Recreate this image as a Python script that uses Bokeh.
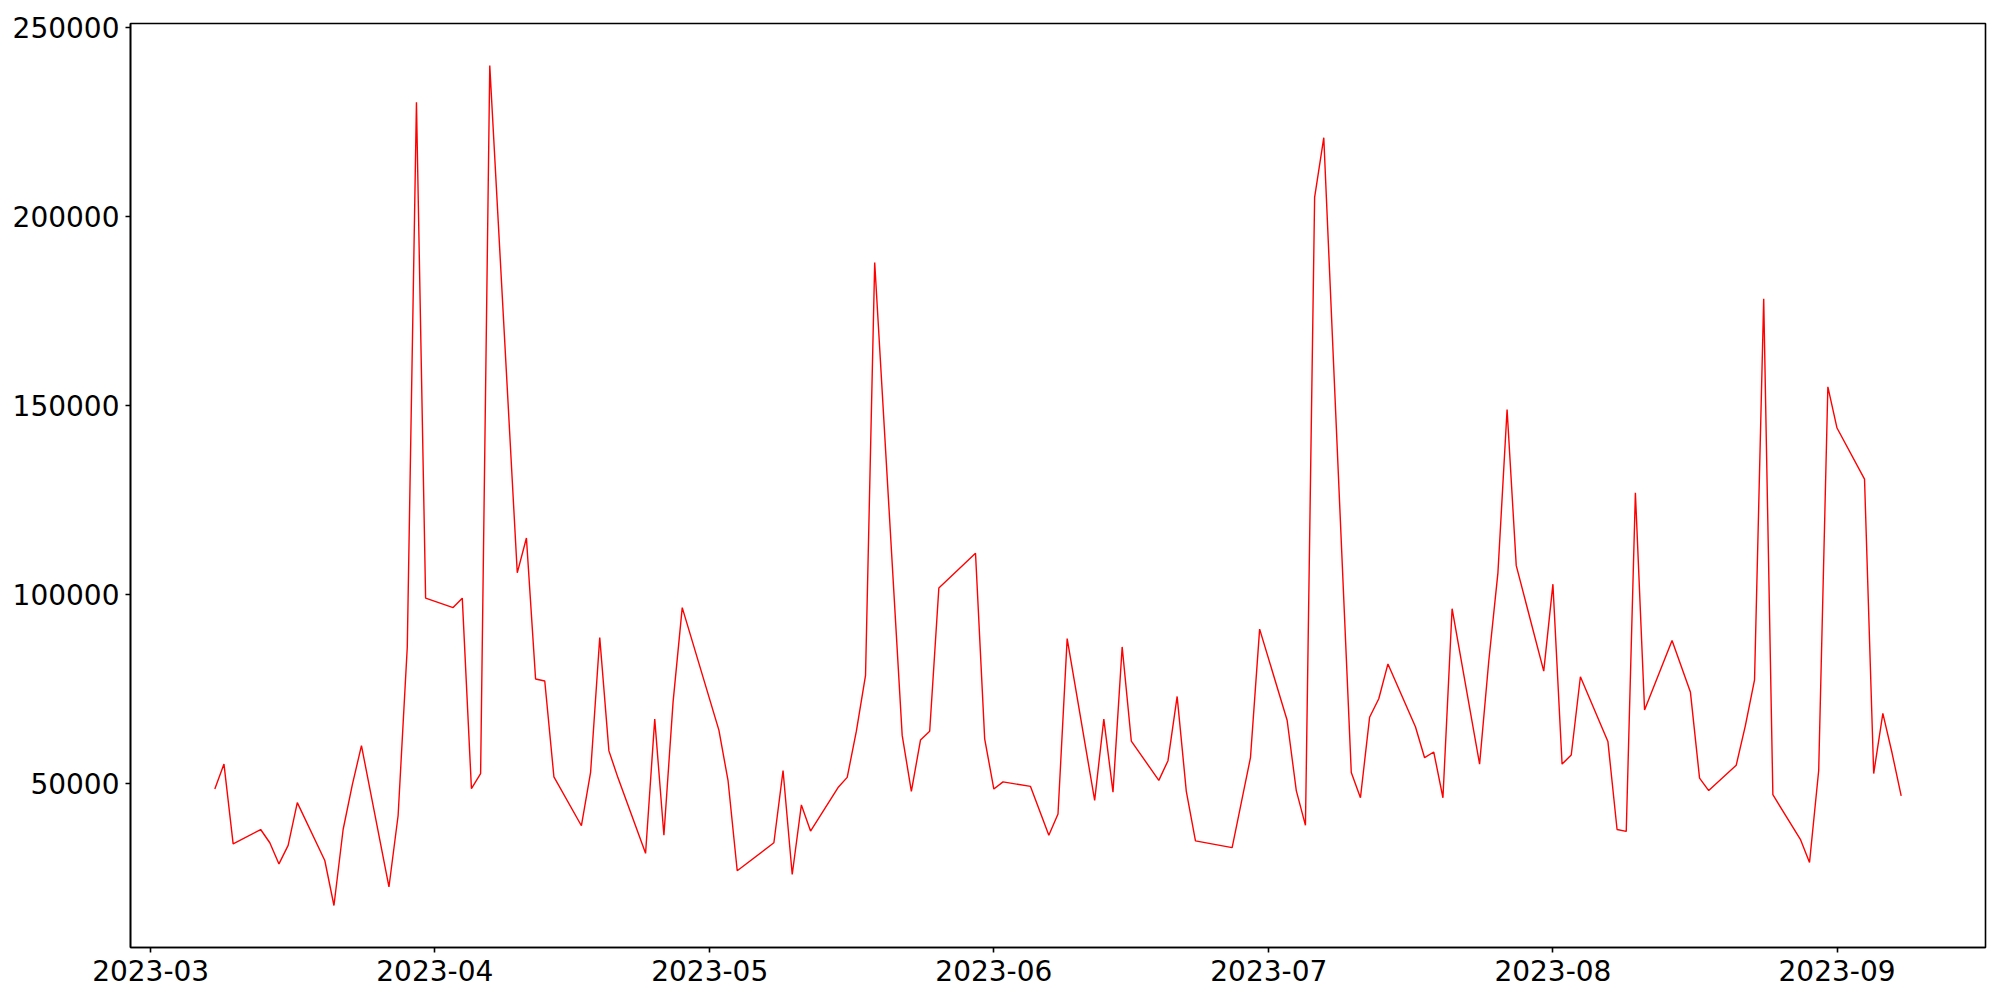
import pandas as pd
from bokeh.plotting import figure
from bokeh.models import Range1d, FixedTicker, DatetimeTickFormatter, NumeralTickFormatter, ColumnDataSource
from bokeh.embed import file_html
from bokeh.resources import INLINE

dates = [
    "2023-03-08", "2023-03-09", "2023-03-10", "2023-03-13", "2023-03-14", "2023-03-15", "2023-03-16", "2023-03-17",
    "2023-03-20", "2023-03-21", "2023-03-22", "2023-03-23", "2023-03-24", "2023-03-27", "2023-03-28", "2023-03-29",
    "2023-03-30", "2023-03-31", "2023-04-03", "2023-04-04", "2023-04-05", "2023-04-06", "2023-04-07", "2023-04-10",
    "2023-04-11", "2023-04-12", "2023-04-13", "2023-04-14", "2023-04-17", "2023-04-18", "2023-04-19", "2023-04-20",
    "2023-04-21", "2023-04-24", "2023-04-25", "2023-04-26", "2023-04-27", "2023-04-28", "2023-05-02", "2023-05-03",
    "2023-05-04", "2023-05-08", "2023-05-09", "2023-05-10", "2023-05-11", "2023-05-12", "2023-05-15", "2023-05-16",
    "2023-05-17", "2023-05-18", "2023-05-19", "2023-05-22", "2023-05-23", "2023-05-24", "2023-05-25", "2023-05-26",
    "2023-05-30", "2023-05-31", "2023-06-01", "2023-06-02", "2023-06-05", "2023-06-07", "2023-06-08", "2023-06-09",
    "2023-06-12", "2023-06-13", "2023-06-14", "2023-06-15", "2023-06-16", "2023-06-19", "2023-06-20", "2023-06-21",
    "2023-06-22", "2023-06-23", "2023-06-27", "2023-06-28", "2023-06-29", "2023-06-30", "2023-07-03", "2023-07-04",
    "2023-07-05", "2023-07-06", "2023-07-07", "2023-07-10", "2023-07-11", "2023-07-12", "2023-07-13", "2023-07-14",
    "2023-07-17", "2023-07-18", "2023-07-19", "2023-07-20", "2023-07-21", "2023-07-24", "2023-07-25", "2023-07-26",
    "2023-07-27", "2023-07-28", "2023-07-31", "2023-08-01", "2023-08-02", "2023-08-03", "2023-08-04", "2023-08-07",
    "2023-08-08", "2023-08-09", "2023-08-10", "2023-08-11", "2023-08-14", "2023-08-16", "2023-08-17", "2023-08-18",
    "2023-08-21", "2023-08-22", "2023-08-23", "2023-08-24", "2023-08-25", "2023-08-28", "2023-08-29", "2023-08-30",
    "2023-08-31", "2023-09-01", "2023-09-04", "2023-09-05", "2023-09-06", "2023-09-07", "2023-09-08",
]

values = [
    48500, 55100, 34000, 37800, 34300, 28700, 33600, 44900,
    29600, 17700, 37800, 49600, 60000, 22600, 41500, 86100,
    230200, 99000, 96500, 99000, 48600, 52600, 239900, 105700,
    114900, 77600, 77100, 51700, 38800, 52900, 88600, 58600,
    51400, 31500, 67000, 36300, 71500, 96500, 64100, 50700,
    26900, 34300, 53400, 25900, 44300, 37400, 48900, 51600,
    63800, 78600, 187800, 62700, 47900, 61500, 63800, 101700,
    110900, 61800, 48500, 50400, 49200, 36300, 41900, 88300,
    45500, 67000, 47700, 86100, 61200, 50800, 56000, 73000,
    47900, 34800, 33000, 44900, 56800, 90800, 66700, 48100,
    38900, 205000, 220800, 52900, 46200, 67500, 72400, 81600,
    65000, 56800, 58300, 46200, 96200, 55100, 82300, 105700,
    148900, 107600, 79700, 102700, 55100, 57500, 78200, 61100,
    37800, 37300, 126900, 69400, 87800, 74200, 51400, 48100,
    54800, 65300, 77400, 178200, 47000, 35200, 29100, 53400,
    154900, 144000, 130500, 52600, 68500, 58100, 46700,
]

x_tick_labels = ["2023-03", "2023-04", "2023-05", "2023-06", "2023-07", "2023-08", "2023-09"]
y_ticks = [50000, 100000, 150000, 200000, 250000]

x = pd.to_datetime(dates)
src = ColumnDataSource(data=dict(x=x, y=values))

# matplotlib-like 5% margins
xmin, xmax = x.min(), x.max()
xpad = (xmax - xmin) * 0.05
ymin, ymax = min(values), max(values)
ypad = (ymax - ymin) * 0.05

p = figure(
    frame_width=1855, frame_height=924,
    x_axis_type="datetime",
    x_range=Range1d(xmin - xpad, xmax + xpad),
    y_range=Range1d(ymin - ypad, ymax + ypad),
    output_backend="svg", toolbar_location=None,
    min_border_left=130, min_border_right=7, min_border_top=23, min_border_bottom=45,
    background_fill_color="white", border_fill_color="white",
)

p.line("x", "y", source=src, line_color="red", line_width=1.4)

p.xgrid.visible = False
p.ygrid.visible = False
p.outline_line_color = "black"
p.outline_line_width = 1.6
p.outline_line_alpha = 1.0

tick_ms = [pd.Timestamp(t + "-01").value // 10**6 for t in x_tick_labels]
p.xaxis.ticker = FixedTicker(ticks=tick_ms)
fmt = "%Y-%m"
p.xaxis.formatter = DatetimeTickFormatter(
    microseconds=fmt, milliseconds=fmt, seconds=fmt, minsec=fmt, minutes=fmt,
    hourmin=fmt, hours=fmt, days=fmt, months=fmt, years=fmt,
)
p.yaxis.ticker = FixedTicker(ticks=y_ticks)
p.yaxis.formatter = NumeralTickFormatter(format="0")

for ax in (p.xaxis[0], p.yaxis[0]):
    ax.major_tick_out = 5
    ax.major_tick_in = 0
    ax.minor_tick_out = 0
    ax.minor_tick_in = 0
    ax.major_tick_line_width = 1.6
    ax.major_tick_line_color = "black"
    ax.axis_line_width = 1.6
    ax.axis_line_color = "black"
    ax.major_label_text_font = "DejaVu Sans"
    ax.major_label_text_font_size = "28px"
    ax.major_label_text_color = "black"

p.xaxis.major_label_standoff = 7
p.yaxis.major_label_standoff = 6

open("out.html", "w").write(file_html(p, INLINE))
